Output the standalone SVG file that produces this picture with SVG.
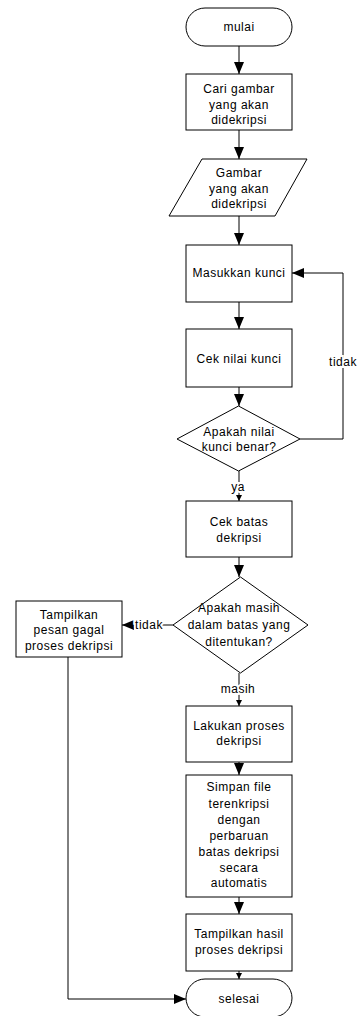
<svg xmlns="http://www.w3.org/2000/svg" width="358" height="1016" viewBox="0 0 358 1016">
<style>
.s{fill:#fff;stroke:#000;stroke-width:1}
.t{font-family:"Liberation Sans",Arial,sans-serif;font-size:12px;letter-spacing:0.5px;text-anchor:middle;fill:#000}
.l{fill:none;stroke:#000;stroke-width:1}
.lb{font-family:"Liberation Sans",Arial,sans-serif;font-size:12px;letter-spacing:0.5px;text-anchor:middle;fill:#000;stroke:#fff;stroke-width:4;paint-order:stroke}
</style>
<defs>
<marker id="arr" viewBox="0 0 12 10" markerWidth="12" markerHeight="10" refX="12" refY="5" orient="auto" markerUnits="userSpaceOnUse"><path d="M0,0 L12,5 L0,10 z" fill="#000"/></marker>
<marker id="arrs" viewBox="0 0 6 6" markerWidth="6" markerHeight="6" refX="6" refY="3" orient="auto" markerUnits="userSpaceOnUse"><path d="M0,0 L6,3 L0,6 z" fill="#000"/></marker>
</defs>
<g id="connectors">
<path class="l" d="M239,46 V74" marker-end="url(#arr)"/>
<path class="l" d="M239,130 V159" marker-end="url(#arr)"/>
<path class="l" d="M239,216 V245" marker-end="url(#arr)"/>
<path class="l" d="M239,302 V329" marker-end="url(#arr)"/>
<path class="l" d="M239,387 V406" marker-end="url(#arr)"/>
<path class="l" d="M300,439 H343 V273 H292" marker-end="url(#arr)"/>
<path class="l" d="M239,471 V501" marker-end="url(#arrs)"/>
<path class="l" d="M239,557 V577" marker-end="url(#arr)"/>
<path class="l" d="M173,625 H122" marker-end="url(#arr)"/>
<path class="l" d="M239,673 V706" marker-end="url(#arrs)"/>
<path class="l" d="M239,762 V775" marker-end="url(#arr)"/>
<path class="l" d="M239,897 V914" marker-end="url(#arr)"/>
<path class="l" d="M239,971 V979" marker-end="url(#arrs)"/>
<path class="l" d="M68,657 V999 H186" marker-end="url(#arr)"/>
<text class="lb" x="343" y="366">tidak</text>
<text class="lb" x="238" y="491">ya</text>
<text class="lb" x="149" y="629">tidak</text>
<text class="lb" x="238" y="693">masih</text>
</g>
<g id="mulai">
<rect class="s" x="186" y="8" width="106" height="38" rx="19"/>
<text class="t" x="239" y="31">mulai</text>
</g>
<g id="cari">
<rect class="s" x="186" y="74" width="106" height="56"/>
<text class="t" x="239" y="93">Cari gambar</text>
<text class="t" x="239" y="109">yang akan</text>
<text class="t" x="239" y="124">didekripsi</text>
</g>
<g id="gambar">
<polygon class="s" points="202,159 307,159 275,216 169,216"/>
<text class="t" x="239" y="177">Gambar</text>
<text class="t" x="239" y="193">yang akan</text>
<text class="t" x="239" y="208">didekripsi</text>
</g>
<g id="masukkan">
<rect class="s" x="186" y="245" width="106" height="57"/>
<text class="t" x="239" y="277">Masukkan kunci</text>
</g>
<g id="ceknilai">
<rect class="s" x="186" y="329" width="106" height="58"/>
<text class="t" x="239" y="363">Cek nilai kunci</text>
</g>
<g id="apakahkunci">
<polygon class="s" points="238.5,406 300,439 238.5,471 177,439"/>
<text class="t" x="239" y="436">Apakah nilai</text>
<text class="t" x="239" y="451">kunci benar?</text>
</g>
<g id="cekbatas">
<rect class="s" x="186" y="501" width="106" height="56"/>
<text class="t" x="239" y="526">Cek batas</text>
<text class="t" x="239" y="541.5">dekripsi</text>
</g>
<g id="apakahbatas">
<polygon class="s" points="240.5,577 308,625 240.5,673 173,625"/>
<text class="t" x="239" y="612">Apakah masih</text>
<text class="t" x="239" y="629">dalam batas yang</text>
<text class="t" x="239" y="645.5">ditentukan?</text>
</g>
<g id="gagal">
<rect class="s" x="16" y="601" width="106" height="56"/>
<text class="t" x="69" y="619">Tampilkan</text>
<text class="t" x="69" y="634">pesan gagal</text>
<text class="t" x="69" y="650">proses dekripsi</text>
</g>
<g id="lakukan">
<rect class="s" x="186" y="706" width="106" height="56"/>
<text class="t" x="239" y="730">Lakukan proses</text>
<text class="t" x="239" y="745">dekripsi</text>
</g>
<g id="simpan">
<rect class="s" x="186" y="775" width="106" height="122"/>
<text class="t" x="239" y="791">Simpan file</text>
<text class="t" x="239" y="807.5">terenkripsi</text>
<text class="t" x="239" y="823.5">dengan</text>
<text class="t" x="239" y="839.5">perbaruan</text>
<text class="t" x="239" y="856">batas dekripsi</text>
<text class="t" x="239" y="871.5">secara</text>
<text class="t" x="239" y="887">automatis</text>
</g>
<g id="hasil">
<rect class="s" x="186" y="914" width="106" height="57"/>
<text class="t" x="239" y="938">Tampilkan hasil</text>
<text class="t" x="239" y="954">proses dekripsi</text>
</g>
<g id="selesai">
<rect class="s" x="186" y="979" width="106" height="38" rx="19"/>
<text class="t" x="239" y="1003">selesai</text>
</g>
</svg>
